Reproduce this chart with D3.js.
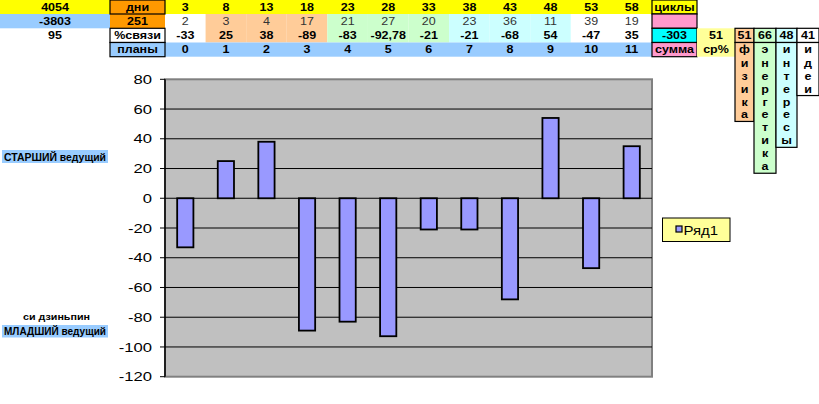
<!DOCTYPE html>
<html><head><meta charset="utf-8">
<script src="https://cdn.jsdelivr.net/npm/d3@7"></script>
<style>html,body{margin:0;padding:0;background:#fff;}svg{display:block;}</style>
</head><body>
<script>
// ---- data ----
const plans = [0,1,2,3,4,5,6,7,8,9,10,11];
const cycleDays = [3,8,13,18,23,28,33,38,43,48,53,58];
const counts = [2,3,4,17,21,27,20,23,36,11,39,19];
const linkPct = [-33,25,38,-89,-83,-92.78,-21,-21,-68,54,-47,35];
const yTicks = [80,60,40,20,0,-20,-40,-60,-80,-100,-120];
const leftValues = ["4054","-3803","95"];
const rowLabels = ["дни","251","%связи","планы"];
const sideLabels = ["циклы","","-303","сумма"];
const avgLabel = ["51","ср%"];
const subAvgValues = ["51","66","48","41"];
const subWords = ["физика","энергетика","интересы","идеи"];
const seriesName = "Ряд1";

const W = 819, H = 404;
const svg = d3.select("body").append("svg").attr("width", W).attr("height", H)
  .style("font-family", "'Liberation Sans', Arial, sans-serif");

const SX = 1.25; // horizontal stretch of the original picture
function txt(g, x, y, s, o = {}) {
  return g.append("text")
    .attr("transform", `translate(${x},${y}) scale(${o.sx ?? SX},1)`)
    .attr("text-anchor", o.anchor || "middle")
    .attr("font-size", o.size || 10)
    .attr("font-weight", o.weight || "bold")
    .attr("fill", o.fill || "#000")
    .text(s);
}
const fmt = v => String(v).replace(".", ",");

// ---- chart ----
const plotL = 165, plotR = 652, plotT = 79.3, plotB = 376.7;
const x = d3.scaleBand().domain(plans).range([plotL, plotR]).paddingInner(0.6).paddingOuter(0.3);
const y = d3.scaleLinear().domain([-120, 80]).range([plotB, plotT]);

// table grid (shares chart columns)
const step = x.step();
const colX = i => plotL + i * step;
const R = [0, 14, 28.3, 42.5, 56.7];
const letterH = 12.95;
const table = svg.append("g");
const cell = (x0, y0, w, h, fill, border) =>
  table.append("rect").attr("x", x0).attr("y", y0).attr("width", w).attr("height", h)
    .attr("fill", fill).attr("stroke", border ? "#000" : "none").attr("stroke-width", border ? 1.2 : 0);

const groupFill = ["#FFFFFF","#FFCC99","#FFCC99","#FFCC99","#CCFFCC","#CCFFCC","#CCFFCC","#CCFFFF","#CCFFFF","#CCFFFF","#FFFFFF","#FFFFFF"];

// row 0 yellow band
cell(0, R[0], 110, R[1]-R[0], "#FFFF00");
cell(plotL, R[0], plotR - plotL, R[1]-R[0], "#FFFF00");
// left column
cell(0, R[1], 110, R[2]-R[1], "#99CCFF");
// data cells rows 1-2
plans.forEach(i => {
  cell(colX(i), R[1], step, R[3]-R[1], groupFill[i]);
});
// row 3 blue
cell(plotL, R[3], plotR - plotL, R[4]-R[3], "#99CCFF");
// label column
cell(110, R[1], 55, R[2]-R[1], "#FF9900");
cell(110, R[0], 55, R[1]-R[0], "#FF9900", true);
cell(110, R[2], 55, R[3]-R[2], "#FFFFFF", true);
cell(110, R[3], 55, R[4]-R[3], "#99CCFF", true);
// side column
const sx0 = 652, sx1 = 697, ax1 = 735;
cell(sx0, R[0], sx1-sx0, R[1]-R[0], "#FFFF00", true);
cell(sx0, R[1], sx1-sx0, R[2]-R[1], "#FF99CC", true);
cell(sx0, R[2], sx1-sx0, R[3]-R[2], "#00FFFF", true);
cell(sx0, R[3], sx1-sx0, R[4]-R[3], "#FF99CC", true);
cell(sx1, R[2], ax1-sx1, R[4]-R[2], "#FFFF99");
// sub columns
const subX = [735, 754, 776, 797, 819];
const subFill = ["#FFCC99","#CCFFCC","#CCFFFF","#FFFFFF"];
subWords.forEach((w, k) => {
  const x0 = subX[k], x1 = subX[k+1];
  cell(x0, R[2], x1-x0, R[3]-R[2], subFill[k], true);
  const n = w.length;
  cell(x0, R[3], x1-x0, (R[4]-R[3]) + (n-1)*letterH, subFill[k], true);
  txt(table, (x0+x1)/2, R[2] + 10.5, subAvgValues[k]);
  [...w].forEach((ch, j) => {
    const cy = j === 0 ? (R[3]+R[4])/2 : R[4] + (j-0.5)*letterH;
    txt(table, (x0+x1)/2, cy + 3.5, ch);
  });
});

// texts
const mid = r => (R[r]+R[r+1])/2 + 3.6;
leftValues.forEach((v, r) => txt(table, 55, mid(r), v));
rowLabels.forEach((v, r) => txt(table, 137.5, mid(r), v));
sideLabels.forEach((v, r) => txt(table, (sx0+sx1)/2, mid(r), v));
txt(table, (sx1+ax1)/2, mid(2), avgLabel[0]);
txt(table, (sx1+ax1)/2, mid(3), avgLabel[1]);
plans.forEach(i => {
  const cx = colX(i) + step/2;
  txt(table, cx, mid(0), cycleDays[i]);
  txt(table, cx, mid(1), counts[i], {weight: "normal", fill: "#333"});
  txt(table, cx, mid(2), fmt(linkPct[i]));
  txt(table, cx, mid(3), plans[i]);
});

// left side labels
const side = svg.append("g");
side.append("rect").attr("x", 2).attr("y", 150).attr("width", 106).attr("height", 13).attr("fill", "#99CCFF");
side.append("text").attr("x", 4).attr("y", 160.5).attr("font-size", 10).attr("font-weight", "bold")
  .attr("textLength", 102).attr("lengthAdjust", "spacingAndGlyphs").text("СТАРШИЙ ведущий");
side.append("text").attr("x", 23).attr("y", 320).attr("font-size", 9.5).attr("font-weight", "bold")
  .attr("textLength", 67).attr("lengthAdjust", "spacingAndGlyphs").text("си дзиньпин");
side.append("rect").attr("x", 2).attr("y", 325).attr("width", 106).attr("height", 12.5).attr("fill", "#99CCFF");
side.append("text").attr("x", 4).attr("y", 335).attr("font-size", 10).attr("font-weight", "bold")
  .attr("textLength", 102).attr("lengthAdjust", "spacingAndGlyphs").text("МЛАДШИЙ ведущий");

// plot area
const chart = svg.append("g");
chart.append("rect").attr("x", plotL).attr("y", plotT).attr("width", plotR-plotL).attr("height", plotB-plotT)
  .attr("fill", "#C0C0C0").attr("stroke", "#808080").attr("stroke-width", 2);
chart.selectAll("line.grid").data(yTicks.filter(t => t > -120 && t < 80)).enter().append("line")
  .attr("x1", plotL).attr("x2", plotR).attr("y1", d => y(d)).attr("y2", d => y(d))
  .attr("stroke", "#000").attr("stroke-width", 1);

// bars
chart.selectAll("rect.bar").data(plans).enter().append("rect")
  .attr("x", i => x(i)).attr("width", x.bandwidth())
  .attr("y", i => y(Math.max(0, linkPct[i])))
  .attr("height", i => Math.abs(y(linkPct[i]) - y(0)))
  .attr("fill", "#9999FF").attr("stroke", "#000").attr("stroke-width", 1.8);

// y axis
const ax = chart.append("g");
ax.append("line").attr("x1", plotL).attr("x2", plotL).attr("y1", plotT).attr("y2", plotB)
  .attr("stroke", "#000").attr("stroke-width", 1.5);
yTicks.forEach(t => {
  ax.append("line").attr("x1", plotL-5).attr("x2", plotL).attr("y1", y(t)).attr("y2", y(t))
    .attr("stroke", "#000").attr("stroke-width", 1);
  txt(ax, 152, y(t) + 4.6, t, {anchor: "end", size: 12.8, weight: "normal", sx: 1.3});
});

// legend
const lg = svg.append("g");
lg.append("rect").attr("x", 662.5).attr("y", 218).attr("width", 67.5).attr("height", 23.5)
  .attr("fill", "#FFFF99").attr("stroke", "#000").attr("stroke-width", 1);
lg.append("rect").attr("x", 676).attr("y", 226).attr("width", 6).attr("height", 6)
  .attr("fill", "#9999FF").attr("stroke", "#000").attr("stroke-width", 1.2);
txt(lg, 683.5, 235, seriesName, {anchor: "start", size: 13, weight: "normal", sx: 1.15});
</script>
</body></html>
